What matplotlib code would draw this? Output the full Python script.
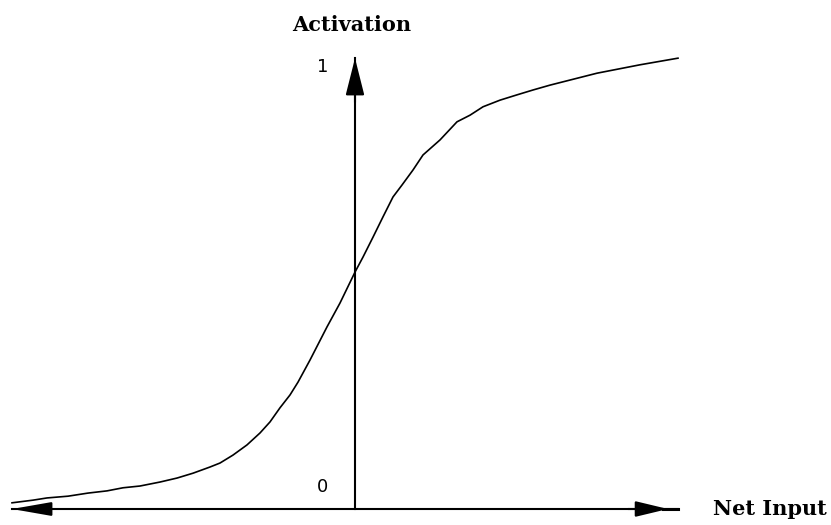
import matplotlib
matplotlib.use("Agg")
import matplotlib.pyplot as plt

# Sigmoid-like activation curve
net_input = [-6.86, -6.44, -6.16, -5.74, -5.34, -4.96, -4.64, -4.30, -3.90, -3.56,
             -3.24, -2.90, -2.70, -2.44, -2.16, -1.90, -1.70, -1.50, -1.30, -1.14,
             -0.90, -0.56, -0.30, 0.00, 0.16, 0.36, 0.56, 0.76, 0.94, 1.16,
             1.36, 1.70, 2.04, 2.30, 2.56, 2.90, 3.24, 3.56, 3.90, 4.84,
             5.70, 6.46]
activation = [0.014, 0.020, 0.025, 0.029, 0.036, 0.041, 0.048, 0.052, 0.061, 0.070,
              0.081, 0.095, 0.104, 0.122, 0.145, 0.172, 0.197, 0.229, 0.258, 0.287,
              0.337, 0.412, 0.466, 0.536, 0.570, 0.615, 0.661, 0.706, 0.733, 0.767,
              0.801, 0.835, 0.876, 0.891, 0.910, 0.925, 0.937, 0.948, 0.959, 0.986,
              1.005, 1.020]

x_axis_range = [-6.86, 6.46]
y_axis_top = 1.02
x_label = "Net Input"
y_label = "Activation"
y_ticks = [0, 1]

fig = plt.figure(figsize=(8.31, 5.25), dpi=100)
ax = fig.add_axes([0, 0, 1, 1])
ax.set_xlim(-7.1, 9.52)
ax.set_ylim(-0.0362, 1.1516)
ax.axis("off")

# curve
ax.plot(net_input, activation, color="black", lw=1.2, solid_joinstyle="round")

# horizontal axis
ax.plot(x_axis_range, [0, 0], color="black", lw=1.5)
# left arrowhead
ax.annotate("", xy=(x_axis_range[0], 0), xytext=(x_axis_range[0] + 0.8, 0),
            arrowprops=dict(arrowstyle="-|>,head_length=2.4,head_width=0.42", color="black",
                            lw=1.5, shrinkA=0, shrinkB=0, mutation_scale=10))
# right arrowhead (tip a bit before the axis end, short stub beyond)
ax.annotate("", xy=(x_axis_range[1] - 0.2, 0), xytext=(x_axis_range[1] - 1.0, 0),
            arrowprops=dict(arrowstyle="-|>,head_length=2.0,head_width=0.48", color="black",
                            lw=1.5, shrinkA=0, shrinkB=0, mutation_scale=10))
ax.plot([x_axis_range[1] - 0.3, x_axis_range[1]], [0, 0], color="black", lw=2.2)

# vertical axis with arrow at top
ax.plot([0, 0], [0, y_axis_top], color="black", lw=1.5)
ax.annotate("", xy=(0, y_axis_top), xytext=(0, y_axis_top - 0.1),
            arrowprops=dict(arrowstyle="-|>,head_length=2.3,head_width=0.58", color="black",
                            lw=1.5, shrinkA=0, shrinkB=0, mutation_scale=10))

# labels
ax.text(-0.07, 1.095, y_label, ha="center", va="center", fontsize=15,
        family="DejaVu Serif", fontweight="bold")
ax.text(8.3, 0, x_label, ha="center", va="center", fontsize=15,
        family="DejaVu Serif", fontweight="bold")
ax.text(-0.64, 1.0, str(y_ticks[1]), ha="center", va="center", fontsize=13)
ax.text(-0.66, 0.05, str(y_ticks[0]), ha="center", va="center", fontsize=13)

fig.savefig("out.png", dpi=100)
